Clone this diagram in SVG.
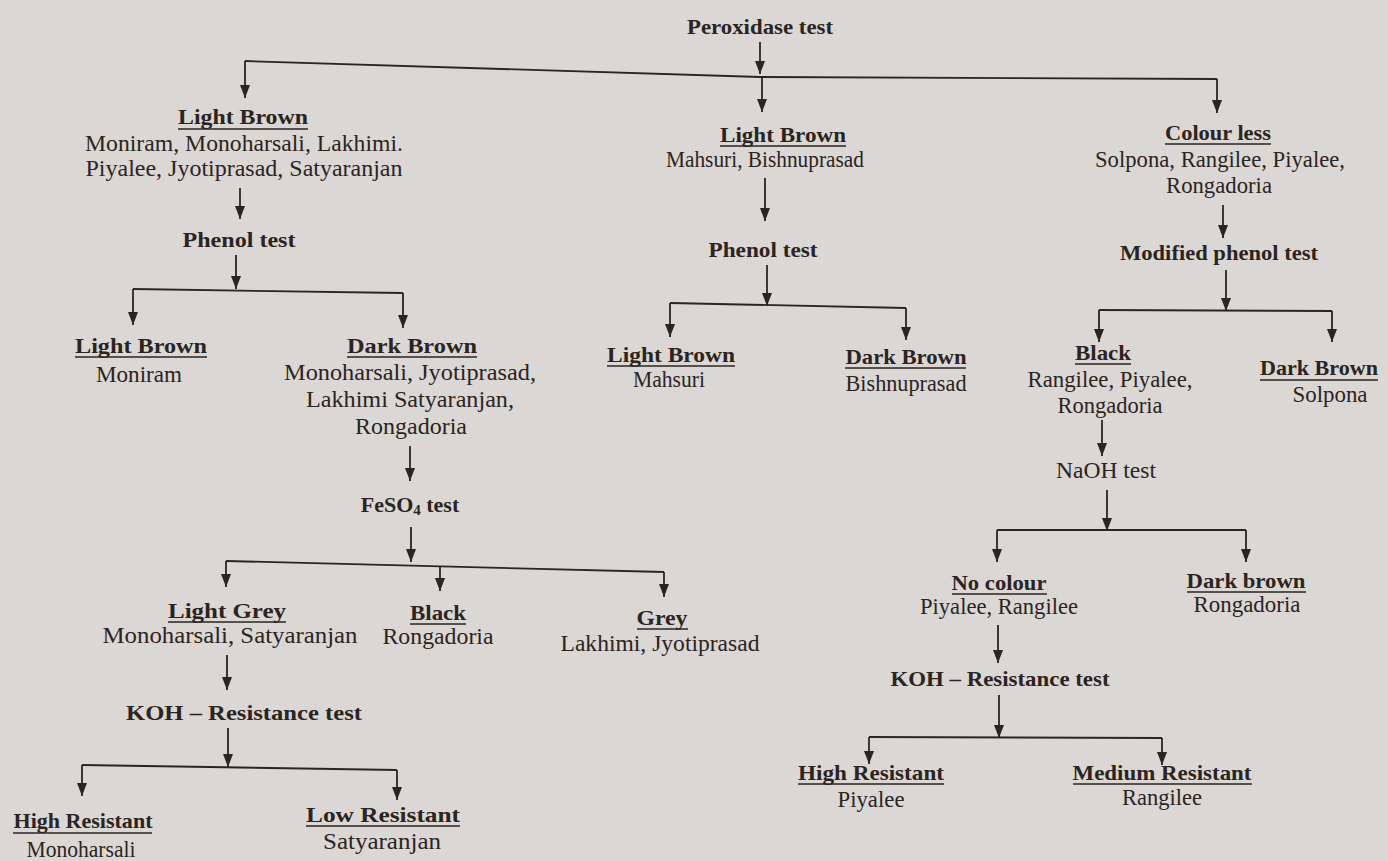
<svg xmlns="http://www.w3.org/2000/svg" width="1388" height="861" viewBox="0 0 1388 861">
<defs>
<marker id="ah" viewBox="0 0 13 10" refX="13" refY="5" markerWidth="13" markerHeight="10" markerUnits="userSpaceOnUse" orient="auto">
<path d="M0,0 L13,5 L0,10 Z" fill="#2b2421"/>
</marker>
<style>
text{font-family:"Liberation Serif","Times New Roman",serif;fill:#2b2421;text-anchor:middle}
.b{font-weight:bold;font-size:22px}
.r{font-size:23px}
.u{stroke:#2b2421;stroke-width:1.6}
.c path{fill:none;stroke:#2b2421;stroke-width:1.8}
.c .a{marker-end:url(#ah)}
</style>
</defs>
<rect width="1388" height="861" fill="#dbd7d4"/>

<g class="c" id="connectors">
<path class="a" d="M760,42 V74"/>
<path d="M245,61 L760,77 L1217,79"/>
<path class="a" d="M245,61 V98"/>
<path class="a" d="M762,77 V112"/>
<path class="a" d="M1217,79 V113"/>
<path class="a" d="M240,188 V219"/>
<path class="a" d="M236,255 V289"/>
<path d="M133,289 L403,293"/>
<path class="a" d="M133,289 V325"/>
<path class="a" d="M403,293 V328"/>
<path class="a" d="M410,446 V481"/>
<path class="a" d="M411,527 V562"/>
<path d="M226,561 L664,572"/>
<path class="a" d="M226,561 V587"/>
<path class="a" d="M440,566 V591"/>
<path class="a" d="M664,572 V597"/>
<path class="a" d="M227,655 V690"/>
<path class="a" d="M228,728 V767"/>
<path d="M82,765 L397,770"/>
<path class="a" d="M82,765 V796"/>
<path class="a" d="M397,770 V800"/>
<path class="a" d="M765,178 V221"/>
<path class="a" d="M767,265 V306"/>
<path d="M670,303 L906,308"/>
<path class="a" d="M670,303 V337"/>
<path class="a" d="M906,308 V340"/>
<path class="a" d="M1223,205 V238"/>
<path class="a" d="M1226,270 V311"/>
<path d="M1099,310 L1332,311"/>
<path class="a" d="M1099,310 V342"/>
<path class="a" d="M1332,311 V342"/>
<path class="a" d="M1102,420 V456"/>
<path class="a" d="M1107,490 V531"/>
<path d="M997,530 L1246,530"/>
<path class="a" d="M997,530 V562"/>
<path class="a" d="M1246,530 V562"/>
<path class="a" d="M998,625 V663"/>
<path class="a" d="M999,695 V738"/>
<path d="M869,737 L1162,738"/>
<path class="a" d="M869,737 V764"/>
<path class="a" d="M1162,738 V765"/>
</g>

<g id="peroxidase"><text class="b" x="760" y="34" textLength="146" lengthAdjust="spacingAndGlyphs">Peroxidase test</text></g>

<g id="lb1">
<text class="b" x="243" y="124" textLength="130" lengthAdjust="spacingAndGlyphs">Light Brown</text><line class="u" x1="178" y1="129" x2="308" y2="129"/>
<text class="r" x="244" y="151" textLength="318" lengthAdjust="spacingAndGlyphs">Moniram, Monoharsali, Lakhimi.</text>
<text class="r" x="244" y="176" textLength="317" lengthAdjust="spacingAndGlyphs">Piyalee, Jyotiprasad, Satyaranjan</text>
</g>
<g id="phenol1"><text class="b" x="239" y="247" textLength="113" lengthAdjust="spacingAndGlyphs">Phenol test</text></g>
<g id="lb1a">
<text class="b" x="141" y="353" textLength="132" lengthAdjust="spacingAndGlyphs">Light  Brown</text><line class="u" x1="75" y1="357" x2="207" y2="357"/>
<text class="r" x="139" y="382" textLength="86" lengthAdjust="spacingAndGlyphs">Moniram</text>
</g>
<g id="db1">
<text class="b" x="412" y="353" textLength="130" lengthAdjust="spacingAndGlyphs">Dark Brown</text><line class="u" x1="347" y1="357" x2="477" y2="357"/>
<text class="r" x="410" y="380" textLength="252" lengthAdjust="spacingAndGlyphs">Monoharsali, Jyotiprasad,</text>
<text class="r" x="410" y="407" textLength="208" lengthAdjust="spacingAndGlyphs">Lakhimi Satyaranjan,</text>
<text class="r" x="411" y="434" textLength="112" lengthAdjust="spacingAndGlyphs">Rongadoria</text>
</g>
<g id="feso4"><text class="b" x="410" y="512">FeSO<tspan font-size="15" dy="3">4</tspan><tspan dy="-3"> test</tspan></text></g>
<g id="lgrey">
<text class="b" x="227" y="618" textLength="118" lengthAdjust="spacingAndGlyphs">Light Grey</text><line class="u" x1="168" y1="622" x2="286" y2="622"/>
<text class="r" x="230" y="643" textLength="255" lengthAdjust="spacingAndGlyphs">Monoharsali, Satyaranjan</text>
</g>
<g id="black1">
<text class="b" x="438" y="620" textLength="56" lengthAdjust="spacingAndGlyphs">Black</text><line class="u" x1="410" y1="624" x2="466" y2="624"/>
<text class="r" x="438" y="644" textLength="111" lengthAdjust="spacingAndGlyphs">Rongadoria</text>
</g>
<g id="grey">
<text class="b" x="662" y="625" textLength="51" lengthAdjust="spacingAndGlyphs">Grey</text><line class="u" x1="637" y1="629" x2="688" y2="629"/>
<text class="r" x="660" y="651" textLength="199" lengthAdjust="spacingAndGlyphs">Lakhimi, Jyotiprasad</text>
</g>
<g id="koh1"><text class="b" x="244" y="720" textLength="236" lengthAdjust="spacingAndGlyphs">KOH – Resistance test</text></g>
<g id="hr1">
<text class="b" x="83" y="828" textLength="139" lengthAdjust="spacingAndGlyphs">High Resistant</text><line class="u" x1="13" y1="833" x2="152" y2="833"/>
<text class="r" x="81" y="857" textLength="109" lengthAdjust="spacingAndGlyphs">Monoharsali</text>
</g>
<g id="lr1">
<text class="b" x="383" y="822" textLength="154" lengthAdjust="spacingAndGlyphs">Low Resistant</text><line class="u" x1="306" y1="826" x2="460" y2="826"/>
<text class="r" x="382" y="849" textLength="118" lengthAdjust="spacingAndGlyphs">Satyaranjan</text>
</g>

<g id="lb2">
<text class="b" x="783" y="142" textLength="126" lengthAdjust="spacingAndGlyphs">Light Brown</text><line class="u" x1="720" y1="146" x2="846" y2="146"/>
<text class="r" x="765" y="167" textLength="198" lengthAdjust="spacingAndGlyphs">Mahsuri, Bishnuprasad</text>
</g>
<g id="phenol2"><text class="b" x="763" y="257" textLength="109" lengthAdjust="spacingAndGlyphs">Phenol test</text></g>
<g id="lb2a">
<text class="b" x="671" y="362" textLength="128" lengthAdjust="spacingAndGlyphs">Light Brown</text><line class="u" x1="607" y1="366" x2="735" y2="366"/>
<text class="r" x="669" y="387" textLength="72" lengthAdjust="spacingAndGlyphs">Mahsuri</text>
</g>
<g id="db2">
<text class="b" x="906" y="364" textLength="121" lengthAdjust="spacingAndGlyphs">Dark Brown</text><line class="u" x1="845" y1="368" x2="966" y2="368"/>
<text class="r" x="906" y="391" textLength="121" lengthAdjust="spacingAndGlyphs">Bishnuprasad</text>
</g>

<g id="cl">
<text class="b" x="1218" y="140" textLength="106" lengthAdjust="spacingAndGlyphs">Colour less</text><line class="u" x1="1165" y1="144" x2="1271" y2="144"/>
<text class="r" x="1220" y="167" textLength="250" lengthAdjust="spacingAndGlyphs">Solpona, Rangilee, Piyalee,</text>
<text class="r" x="1219" y="193" textLength="106" lengthAdjust="spacingAndGlyphs">Rongadoria</text>
</g>
<g id="mphenol"><text class="b" x="1219" y="260" textLength="198" lengthAdjust="spacingAndGlyphs">Modified phenol test</text></g>
<g id="black2">
<text class="b" x="1103" y="360" textLength="56" lengthAdjust="spacingAndGlyphs">Black</text><line class="u" x1="1075" y1="364" x2="1131" y2="364"/>
<text class="r" x="1110" y="387" textLength="165" lengthAdjust="spacingAndGlyphs">Rangilee, Piyalee,</text>
<text class="r" x="1110" y="413" textLength="105" lengthAdjust="spacingAndGlyphs">Rongadoria</text>
</g>
<g id="db3">
<text class="b" x="1319" y="375" textLength="118" lengthAdjust="spacingAndGlyphs">Dark Brown</text><line class="u" x1="1260" y1="380" x2="1378" y2="380"/>
<text class="r" x="1330" y="402" textLength="75" lengthAdjust="spacingAndGlyphs">Solpona</text>
</g>
<g id="naoh"><text class="r" x="1106" y="478" textLength="100" lengthAdjust="spacingAndGlyphs">NaOH test</text></g>
<g id="nocolour">
<text class="b" x="999" y="590" textLength="95" lengthAdjust="spacingAndGlyphs">No colour</text><line class="u" x1="952" y1="594" x2="1047" y2="594"/>
<text class="r" x="999" y="614" textLength="158" lengthAdjust="spacingAndGlyphs">Piyalee, Rangilee</text>
</g>
<g id="dbrown">
<text class="b" x="1246" y="588" textLength="119" lengthAdjust="spacingAndGlyphs">Dark brown</text><line class="u" x1="1187" y1="592" x2="1306" y2="592"/>
<text class="r" x="1247" y="612" textLength="107" lengthAdjust="spacingAndGlyphs">Rongadoria</text>
</g>
<g id="koh2"><text class="b" x="1000" y="686" textLength="219" lengthAdjust="spacingAndGlyphs">KOH – Resistance test</text></g>
<g id="hr2">
<text class="b" x="871" y="780" textLength="146" lengthAdjust="spacingAndGlyphs">High Resistant</text><line class="u" x1="798" y1="784" x2="944" y2="784"/>
<text class="r" x="871" y="807" textLength="67" lengthAdjust="spacingAndGlyphs">Piyalee</text>
</g>
<g id="mr2">
<text class="b" x="1162" y="780" textLength="179" lengthAdjust="spacingAndGlyphs">Medium Resistant</text><line class="u" x1="1073" y1="784" x2="1252" y2="784"/>
<text class="r" x="1162" y="805" textLength="80" lengthAdjust="spacingAndGlyphs">Rangilee</text>
</g>
</svg>
